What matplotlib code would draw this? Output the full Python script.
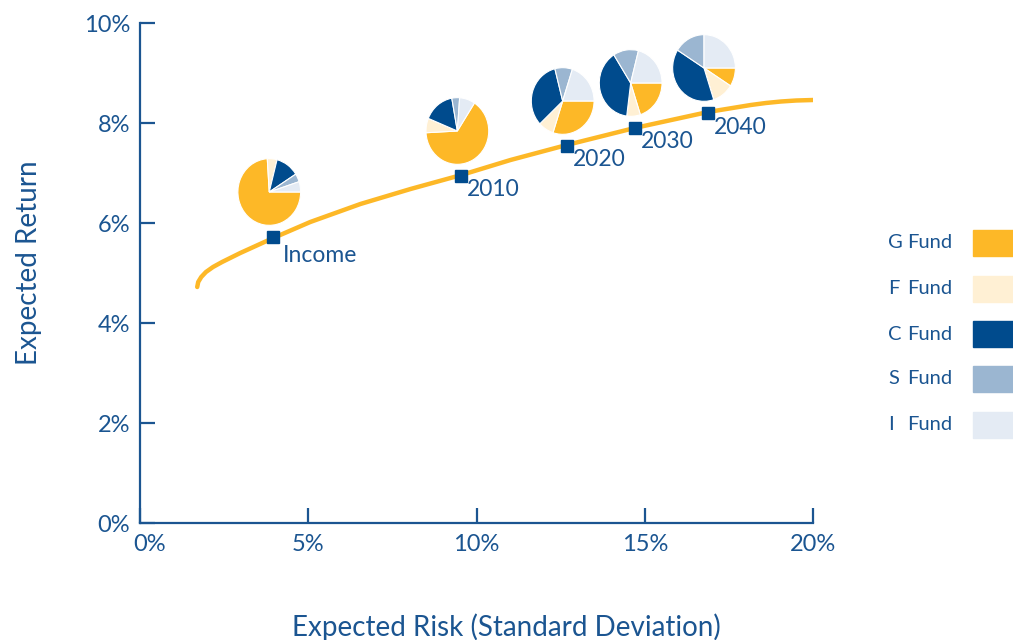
import matplotlib
matplotlib.use("Agg")
import matplotlib.pyplot as plt
from matplotlib.transforms import offset_copy

# efficient frontier (risk %, return %)
frontier_risk = [1.70, 1.73, 1.82, 1.96, 2.17, 2.44, 2.98, 3.96, 5.06, 6.55, 8.04,
                 9.55, 11.01, 12.68, 14.70, 16.88, 18.15, 18.60, 19.05, 19.50, 20.0]
frontier_return = [4.72, 4.82, 4.92, 5.02, 5.12, 5.22, 5.40, 5.70, 6.02, 6.38, 6.68,
                   6.96, 7.26, 7.56, 7.90, 8.22, 8.36, 8.40, 8.43, 8.45, 8.46]

portfolios = ["Income", "2010", "2020", "2030", "2040"]
port_risk = [3.96, 9.55, 12.68, 14.70, 16.88]
port_return = [5.72, 6.94, 7.54, 7.90, 8.20]

fund_names = ["G", "F", "C", "S", "I"]
g_fund = [74, 65, 30, 20, 9]
f_fund = [5, 7, 8, 7, 11]
c_fund = [12, 16, 33, 39, 39]
s_fund = [4, 4, 9, 13, 16]
i_fund = [5, 8, 20, 21, 25]

x_ticks = [0, 5, 10, 15, 20]
y_ticks = [0, 2, 4, 6, 8, 10]

fund_colors = ["#FDB827", "#FFF0D4", "#004B8D", "#9BB6D1", "#E4EBF4"]
blue = "#1B5591"
pie_start = [0, 57, 0, 0, 0]

plt.rcParams["font.family"] = ["Lato", "DejaVu Sans"]

W, H = 1013, 640
fig = plt.figure(figsize=(W / 100, H / 100), dpi=100)
ax = fig.add_axes([140 / W, (640 - 523) / H, (813 - 140) / W, 500 / H])

ax.plot(frontier_risk, frontier_return, color="#FDB827", lw=3.2,
        solid_capstyle="round", solid_joinstyle="round", zorder=2)
ax.plot(port_risk, port_return, ls="none", marker="s", ms=9,
        color="#004B8D", zorder=3)

for name, x, y in zip(portfolios, port_risk, port_return):
    dx, dy = (10, -19) if name == "Income" else (6, -14)
    ax.annotate(name, (x, y), xytext=(dx, dy), textcoords="offset pixels",
                ha="left", va="center", fontsize=16.5, color=blue)

ax.set_xlim(0, 20)
ax.set_ylim(0, 10)
ax.set_xticks(x_ticks)
ax.set_yticks(y_ticks)
ax.set_xticklabels([f"{t}%" for t in x_ticks])
ax.set_yticklabels([f"{t}%" for t in y_ticks])
for s in ["top", "right"]:
    ax.spines[s].set_visible(False)
for s in ["left", "bottom"]:
    ax.spines[s].set_color(blue)
    ax.spines[s].set_linewidth(1.6)
    ax.spines[s].set_capstyle("projecting")
ax.tick_params(direction="in", length=11, width=1.6, color=blue,
               labelcolor=blue, labelsize=17)
ax.tick_params(axis="y", pad=7)
ax.tick_params(axis="x", pad=8)
# first x label sits to the right of the corner
lbl0 = ax.get_xticklabels()[0]
lbl0.set_transform(offset_copy(lbl0.get_transform(), fig=fig, x=10, units="dots"))

ax.set_xlabel("Expected Risk (Standard Deviation)", fontsize=20, color=blue,
              labelpad=42, x=0.544)
ax.set_ylabel("Expected Return", fontsize=20, color=blue, labelpad=30, y=0.52)

# pies above each portfolio marker
fig.canvas.draw()
pw, ph = 64, 68
for k in range(len(portfolios)):
    px, py = ax.transData.transform((port_risk[k], port_return[k]))
    cx, cy = px - 4, py + 45
    pax = fig.add_axes([(cx - pw / 2) / W, (cy - ph / 2) / H, pw / W, ph / H])
    mix = [g_fund[k], f_fund[k], c_fund[k], s_fund[k], i_fund[k]]
    pax.pie(mix, colors=fund_colors, startangle=pie_start[k], counterclock=False,
            wedgeprops=dict(edgecolor="white", linewidth=0.8))
    pax.set_aspect("auto")
    pax.set_xlim(-1.02, 1.02)
    pax.set_ylim(-1.02, 1.02)

# legend on the right
row_y = [243, 289, 334, 379, 425]
for name, col, yy in zip(fund_names, fund_colors, row_y):
    fig.text(888 / W, 1 - yy / H, name, ha="left", va="center",
             fontsize=14.5, color=blue)
    fig.text(907 / W, 1 - yy / H, "Fund", ha="left", va="center",
             fontsize=14.5, color=blue)
    fig.patches.append(plt.Rectangle((973 / W, 1 - (yy + 13) / H), 45 / W, 26 / H,
                                     transform=fig.transFigure, color=col,
                                     figure=fig))

fig.savefig("out.png", dpi=100)
